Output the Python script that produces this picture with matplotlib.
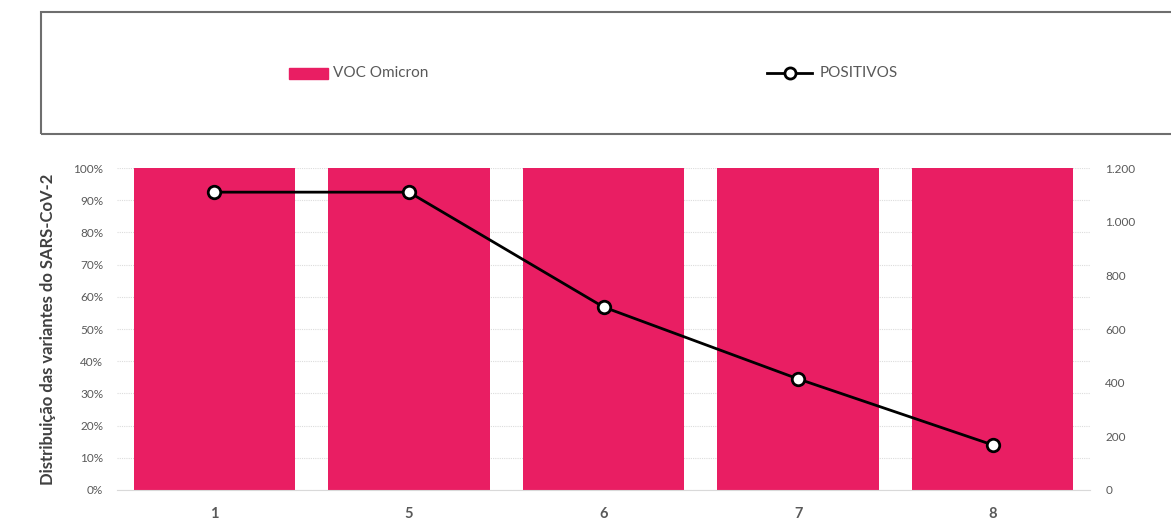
import numpy as np
from matplotlib import pyplot as plt
from matplotlib.patches import Rectangle
from matplotlib.lines import Line2D

# data
semanas = ['1', '5', '6', '7', '8']
omicron_pct = [100, 100, 100, 100, 100]
positivos = [1110, 1110, 682, 414, 168]

pink = '#E91E63'
grey = '#595959'

plt.rcParams['font.family'] = ['Lato', 'DejaVu Sans']

fig = plt.figure(figsize=(11.71, 5.21), dpi=100)
W, H = 1171, 521
ax = fig.add_axes([117 / W, 1 - 490 / H, (1090 - 117) / W, (490 - 168) / H])

x = np.arange(len(semanas))
ax.bar(x, omicron_pct, width=0.83, color=pink, zorder=2)
ax.set_xlim(-0.5, len(semanas) - 0.5)
ax.set_ylim(0, 100)
ax.set_yticks(np.arange(0, 101, 10))
ax.set_yticklabels(['%d%%' % v for v in range(0, 101, 10)])
ax.set_xticks(x)
ax.set_xticklabels(semanas, fontweight='bold', fontsize=10.5, color=grey)
ax.yaxis.grid(True, ls=(0, (1, 1)), color='#dcdcdc', lw=0.8, zorder=0)
ax.tick_params(axis='y', length=0, labelsize=8.5, labelcolor=grey, pad=10)
ax.tick_params(axis='x', length=0, pad=12)
for s in ['top', 'right', 'left']:
    ax.spines[s].set_visible(False)
ax.spines['bottom'].set_color('#d9d9d9')
ax.set_ylabel('Distribuição das variantes do SARS-CoV-2', fontsize=12,
              fontweight='bold', color='#404040', labelpad=12)

ax2 = ax.twinx()
ax2.plot(x, positivos, color='black', lw=2, marker='o', ms=9, mfc='white',
         mec='black', mew=2, zorder=4)
ax2.set_ylim(0, 1200)
ax2.set_yticks(np.arange(0, 1201, 200))
ax2.set_yticklabels(['0', '200', '400', '600', '800', '1.000', '1.200'])
ax2.tick_params(axis='y', length=0, labelsize=8.5, labelcolor=grey, pad=11)
for s in ax2.spines.values():
    s.set_visible(False)

# legend box across the top
fig.patches.append(Rectangle((41 / W, 1 - 134 / H), 1.1, 122 / H,
                             transform=fig.transFigure, fill=False,
                             edgecolor='#6e6e6e', lw=1.5, clip_on=False))
fig.patches.append(Rectangle((289 / W, 1 - 79 / H), 39 / W, 11 / H,
                             transform=fig.transFigure, color=pink))
fig.text(333 / W, 1 - 73 / H, 'VOC Omicron', fontsize=11, color=grey,
         va='center')
fig.lines.append(Line2D([767 / W, 812 / W], [1 - 73 / H, 1 - 73 / H],
                        transform=fig.transFigure, color='black', lw=2))
fig.lines.append(Line2D([789.5 / W], [1 - 73 / H], transform=fig.transFigure,
                        marker='o', ms=8, mfc='white', mec='black', mew=2))
fig.text(820 / W, 1 - 73 / H, 'POSITIVOS', fontsize=11, color=grey,
         va='center')

fig.savefig('out.png', dpi=100)
